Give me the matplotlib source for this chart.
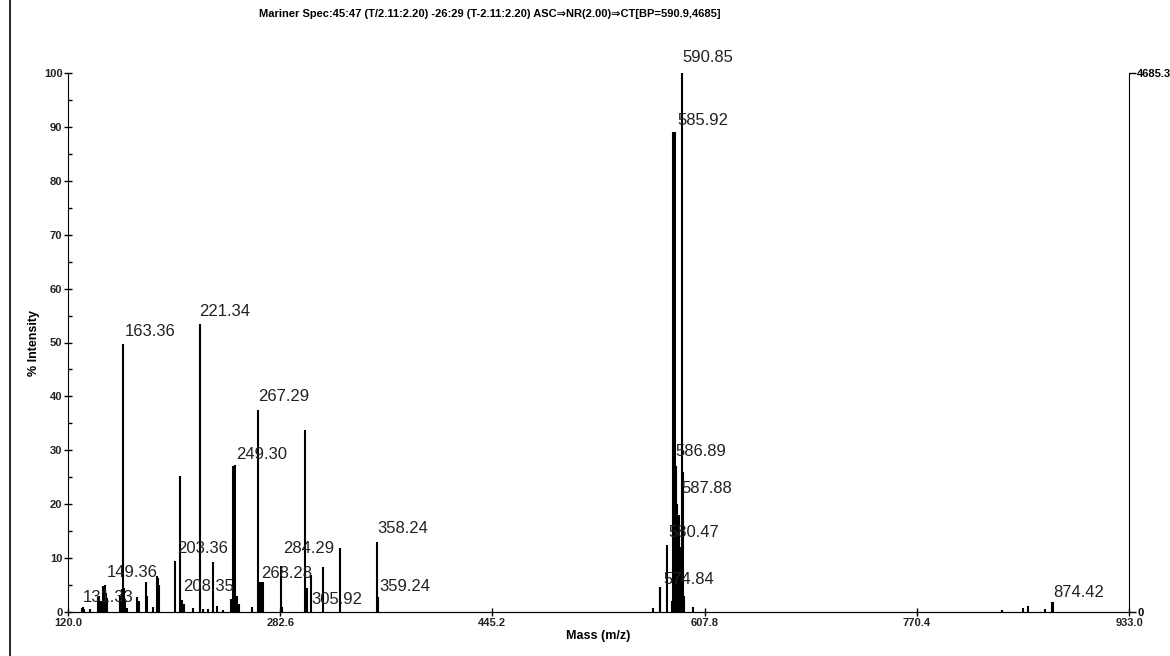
import matplotlib
matplotlib.use('Agg')
import matplotlib.pyplot as plt
from matplotlib.lines import Line2D
from matplotlib.ticker import MultipleLocator

# peak list: m/z and % intensity
mz = [130.5, 131.5, 132.5, 137.0,
      143.0, 144.0, 145.0, 147.0, 148.0, 149.0, 150.0,
      160.0, 161.0, 162.1, 163.0, 164.0, 165.0,
      173.0, 174.5, 179.5, 180.5, 185.0, 188.0, 189.0, 190.0,
      202.0, 205.8, 207.5, 209.0, 215.8, 221.1, 223.5, 227.0, 231.0, 234.0, 239.0,
      245.0, 246.8, 248.0, 249.5, 251.0, 261.0,
      265.6, 266.8, 268.0, 269.2, 283.2, 284.2,
      301.6, 302.5, 303.5, 306.2, 315.4, 328.4, 356.8, 357.6,
      568.0, 573.3, 574.0, 578.9, 582.8,
      583.6, 584.4, 585.1, 586.0, 586.8, 587.6, 588.4, 589.2,
      590.2, 591.2, 592.2, 598.9,
      835.4, 851.5, 855.6, 868.6, 873.7, 874.5]
intensity = [0.8, 1.0, 0.6, 0.5,
             2.8, 3.0, 2.0, 4.8, 5.0, 3.5, 2.6,
             3.0, 4.3, 49.7, 4.5, 2.0, 0.8,
             2.8, 2.0, 5.6, 3.0, 1.0, 6.7, 6.3, 5.0,
             9.5, 25.3, 2.2, 1.5, 0.8, 53.4, 0.6, 0.6, 9.3, 1.2, 0.4,
             2.5, 27.0, 27.3, 3.0, 1.5, 1.0,
             37.4, 5.5, 5.5, 5.5, 8.5, 1.0,
             33.7, 4.5, 4.5, 6.9, 8.4, 11.9, 12.9, 2.8,
             0.8, 4.6, 4.6, 12.5, 2.0,
             89.0, 89.0, 89.0, 27.0, 20.0, 16.0, 18.0, 12.0,
             100.0, 26.0, 3.0, 1.0,
             0.3, 0.8, 1.2, 0.6, 1.8, 1.8]

peak_labels = ['163.36', '221.34', '267.29', '249.30', '203.36', '149.36', '131.33',
               '208.35', '268.28', '284.29', '305.92', '358.24', '359.24',
               '590.85', '585.92', '586.89', '587.88', '580.47', '574.84', '874.42']
label_x = [163.7, 220.4, 265.6, 248.7, 203.5, 149.9, 131.5,
           208.1, 267.9, 284.7, 306.2, 356.8, 358.3,
           590.4, 586.6, 585.8, 589.7, 579.7, 576.6, 874.7]
label_y = [52.0, 55.7, 39.9, 29.2, 11.7, 7.4, 2.6,
           4.8, 7.1, 11.7, 2.4, 15.5, 4.8,
           102.8, 91.2, 29.8, 22.9, 14.7, 6.1, 3.7]

xticks = [120.0, 282.6, 445.2, 607.8, 770.4, 933.0]
base_peak = 4685.3

plt.rcParams['font.family'] = ['Liberation Sans Narrow', 'Liberation Sans', 'DejaVu Sans']

fig = plt.figure(figsize=(11.7, 6.56), dpi=100)
ax = fig.add_axes([68/1170, 44/656, (1129-68)/1170, (612-73)/656])

ax.vlines(mz, 0, intensity, colors='black', linewidth=1.5)

for t, x, y in zip(peak_labels, label_x, label_y):
    ax.text(x, y, t, fontsize=12, color='#1e2228', ha='left', va='center', clip_on=False)

ax.set_xlim(120, 933)
ax.set_ylim(0, 100)
ax.set_xticks(xticks)
ax.set_xticklabels(['%.1f' % v for v in xticks])
ax.yaxis.set_major_locator(MultipleLocator(10))
ax.yaxis.set_minor_locator(MultipleLocator(5))
ax.tick_params(axis='y', which='major', direction='inout', length=6, width=1, labelsize=8, pad=1)
ax.tick_params(axis='y', which='minor', direction='in', length=3, width=1)
ax.tick_params(axis='x', which='major', direction='inout', length=6, width=1, labelsize=8, pad=1)
for lab in ax.get_xticklabels() + ax.get_yticklabels():
    lab.set_fontweight('bold')
    lab.set_color('#222222')
ax.spines['top'].set_visible(False)
ax.spines['right'].set_visible(False)

ax2 = ax.twinx()
ax2.set_ylim(0, base_peak)
ax2.set_yticks([0, base_peak])
ax2.set_yticklabels(['0', '4685.3'])
ax2.tick_params(axis='y', direction='out', length=5, width=1, labelsize=8, pad=1)
for lab in ax2.get_yticklabels():
    lab.set_fontweight('bold')
ax2.spines['top'].set_visible(False)
ax2.spines['left'].set_visible(False)

ax.set_xlabel('Mass (m/z)', fontsize=9, fontweight='bold', labelpad=2)
ax.set_ylabel('% Intensity', fontsize=9, fontweight='bold', labelpad=3)
fig.text(0.419, 0.978, 'Mariner Spec:45:47 (T/2.11:2.20) -26:29 (T-2.11:2.20) ASC\u21d2NR(2.00)\u21d2CT[BP=590.9,4685]',
         fontsize=8, fontweight='bold', ha='center', va='center')

# page edge line on the left
fig.add_artist(Line2D([10/1170, 10/1170], [0, 1], color='black', linewidth=1.2))

fig.savefig('out.png', dpi=100)
